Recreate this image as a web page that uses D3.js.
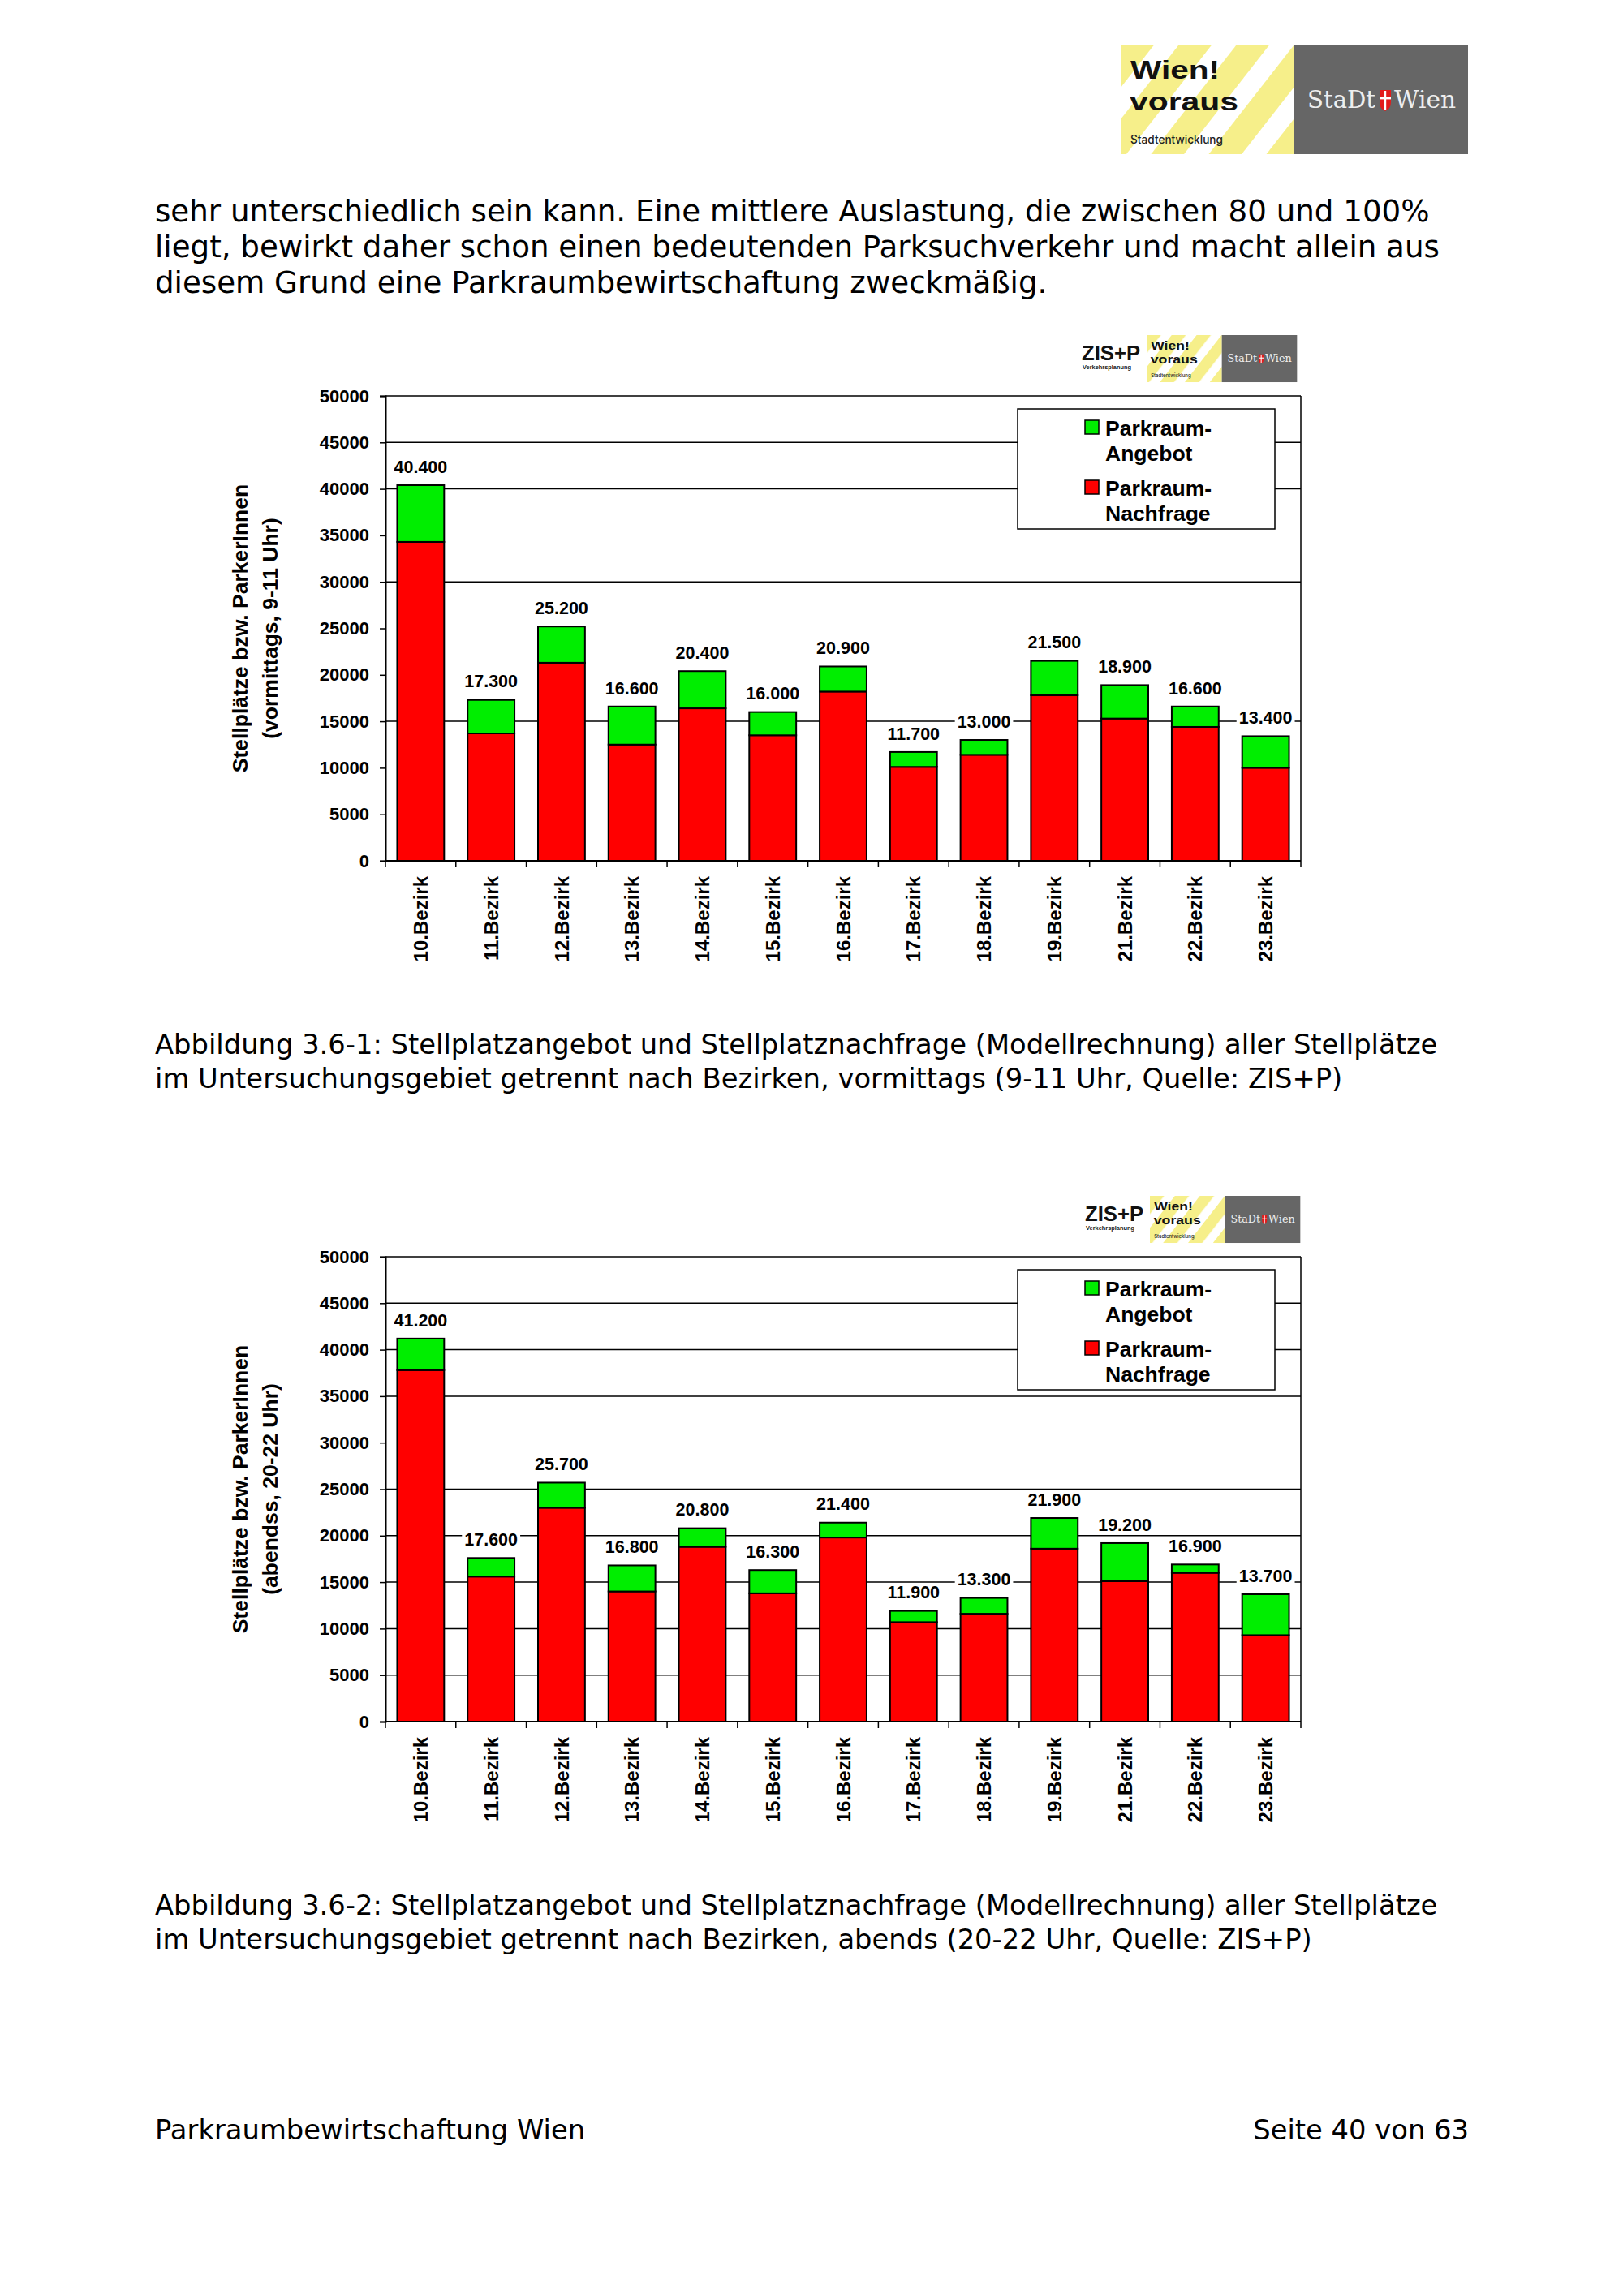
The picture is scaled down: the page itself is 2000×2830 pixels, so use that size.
<!DOCTYPE html>
<html><head><meta charset="utf-8">
<script src="https://cdn.jsdelivr.net/npm/d3@7"></script>
<style>html,body{margin:0;padding:0;background:#fff}svg{display:block}</style>
</head><body><script>
// ---------- data ----------
const districts = ["10.Bezirk","11.Bezirk","12.Bezirk","13.Bezirk","14.Bezirk","15.Bezirk","16.Bezirk","17.Bezirk","18.Bezirk","19.Bezirk","21.Bezirk","22.Bezirk","23.Bezirk"];
// Vormittags (9-11 Uhr)
const amSupply = [40400,17300,25200,16600,20400,16000,20900,11700,13000,21500,18900,16600,13400];
const amDemand = [34300,13700,21300,12500,16400,13500,18200,10100,11400,17800,15300,14400,10000];
// Abends (20-22 Uhr)
const pmSupply = [41200,17600,25700,16800,20800,16300,21400,11900,13300,21900,19200,16900,13700];
const pmDemand = [37800,15600,23000,14000,18800,13800,19800,10700,11600,18600,15100,16000,9300];
const yTickValues = [0,5000,10000,15000,20000,25000,30000,35000,40000,45000,50000];
const amGridValues = [15000,30000,40000,45000];
const pmGridValues = [5000,10000,15000,20000,25000,35000,40000,45000];
const seriesNames = ["Parkraum-Angebot","Parkraum-Nachfrage"];
const legendLines = [["Parkraum-","Angebot"],["Parkraum-","Nachfrage"]];
const seriesColors = ["#00ee00","#ff0000"];
const amTitle = ["Stellplätze bzw. ParkerInnen","(vormittags, 9-11 Uhr)"];
const pmTitle = ["Stellplätze bzw. ParkerInnen","(abendss, 20-22 Uhr)"];
const bodyLines = [
  "sehr unterschiedlich sein kann. Eine mittlere Auslastung, die zwischen 80 und 100%",
  "liegt, bewirkt daher schon einen bedeutenden Parksuchverkehr und macht allein aus",
  "diesem Grund eine Parkraumbewirtschaftung zweckmäßig."
];
const caption1 = [
  "Abbildung 3.6-1: Stellplatzangebot und Stellplatznachfrage (Modellrechnung) aller Stellplätze",
  "im Untersuchungsgebiet getrennt nach Bezirken, vormittags (9-11 Uhr, Quelle: ZIS+P)"
];
const caption2 = [
  "Abbildung 3.6-2: Stellplatzangebot und Stellplatznachfrage (Modellrechnung) aller Stellplätze",
  "im Untersuchungsgebiet getrennt nach Bezirken, abends (20-22 Uhr, Quelle: ZIS+P)"
];
const footerLeft = "Parkraumbewirtschaftung Wien";
const footerRight = "Seite 40 von 63";

// ---------- setup ----------
const W = 2000, H = 2830;
const svg = d3.select("body").append("svg").attr("width", W).attr("height", H);
svg.append("rect").attr("width", W).attr("height", H).attr("fill", "#fff");
const defs = svg.append("defs");
const pat = defs.append("pattern").attr("id","stripes").attr("patternUnits","userSpaceOnUse")
  .attr("width",56).attr("height",56).attr("patternTransform","rotate(38)");
pat.append("rect").attr("width",56).attr("height",56).attr("fill","#fff");
pat.append("rect").attr("width",32).attr("height",56).attr("fill","#f6ef8a");

const DOC_FONT = "'DejaVu Sans', Verdana, sans-serif";
const CH_FONT = "'Liberation Sans', Arial, Helvetica, sans-serif";

// fit body font size to the measured width of the first line
const probe = svg.append("text").attr("font-family", DOC_FONT).attr("font-size", 34).text(bodyLines[0]);
const docSize = 34 * 1571 / probe.node().getComputedTextLength();
probe.remove();
const capSize = docSize * 0.908;

function textBlock(lines, x, y0, lh, size) {
  const t = svg.append("g");
  lines.forEach((l, i) => t.append("text").attr("x", x).attr("y", y0 + i * lh)
    .attr("font-family", DOC_FONT).attr("font-size", size).attr("fill", "#000").text(l));
}
textBlock(bodyLines, 191, 273, 44, docSize);
textBlock(caption1, 191, 1299, 42, capSize);
textBlock(caption2, 191, 2360, 42, capSize);
svg.append("text").attr("x",191).attr("y",2637).attr("font-family",DOC_FONT).attr("font-size",capSize).text(footerLeft);
svg.append("text").attr("x",1810).attr("y",2637).attr("text-anchor","end").attr("font-family",DOC_FONT).attr("font-size",capSize).text(footerRight);

// ---------- logos ----------
function wienLogo(x, y, s) {
  const g = svg.append("g").attr("transform", `translate(${x},${y}) scale(${s})`);
  g.append("rect").attr("width",214).attr("height",134).attr("fill","url(#stripes)");
  g.append("text").attr("x",12).attr("y",41).attr("font-family","'Liberation Sans', sans-serif")
    .attr("font-weight",700).attr("font-size",32).attr("textLength",110).attr("lengthAdjust","spacingAndGlyphs")
    .attr("fill","#111").text("Wien!");
  g.append("text").attr("x",11).attr("y",80).attr("font-family","'Liberation Sans', sans-serif")
    .attr("font-weight",700).attr("font-size",32).attr("textLength",134).attr("lengthAdjust","spacingAndGlyphs")
    .attr("fill","#111").text("voraus");
  g.append("text").attr("x",12).attr("y",121).attr("font-family","Inter, 'Liberation Sans', sans-serif")
    .attr("font-weight",500).attr("font-size",14).attr("textLength",114).attr("lengthAdjust","spacingAndGlyphs").attr("fill","#222").text("Stadtentwicklung");
  g.append("rect").attr("x",214).attr("width",214).attr("height",134).attr("fill","#666");
  g.append("text").attr("x",230).attr("y",77).attr("font-family","'DejaVu Serif', serif")
    .attr("font-size",30).attr("textLength",84).attr("lengthAdjust","spacingAndGlyphs").attr("fill","#eee").text("StaDt");
  g.append("path").attr("d","M319,55 L333,55 L333,70 Q333,78 326,81 Q319,78 319,70 Z").attr("fill","#e21c1c");
  g.append("rect").attr("x",324.8).attr("y",56).attr("width",2.4).attr("height",24).attr("fill","#fff");
  g.append("rect").attr("x",319).attr("y",64).attr("width",14).attr("height",2.4).attr("fill","#fff");
  g.append("text").attr("x",337).attr("y",77).attr("font-family","'DejaVu Serif', serif")
    .attr("font-size",30).attr("textLength",76).attr("lengthAdjust","spacingAndGlyphs").attr("fill","#eee").text("Wien");
  return g;
}
wienLogo(1381, 56, 1);

function chartLogo(x, y) {
  svg.append("text").attr("x",x).attr("y",y+31).attr("font-family",CH_FONT).attr("font-weight",700)
    .attr("font-size",26).attr("textLength",72).attr("lengthAdjust","spacingAndGlyphs").attr("fill","#111").text("ZIS+P");
  svg.append("text").attr("x",x+1).attr("y",y+42).attr("font-family",CH_FONT).attr("font-weight",700)
    .attr("font-size",7).attr("textLength",60).attr("lengthAdjust","spacingAndGlyphs").attr("fill","#222").text("Verkehrsplanung");
  wienLogo(x + 80, y, 0.433);
}

// ---------- charts ----------
const deFmt = d3.formatLocale({decimal: ",", thousands: ".", grouping: [3], currency: ["", "€"]}).format(",");

function drawChart(dy, supply, demand, gridVals, title, logoDx) {
  const x0 = 475, x1 = 1603, yTop = 488 + dy, yBot = 1061 + dy;
  const x = d3.scaleBand().domain(districts).range([x0, x1]).paddingInner(1/3).paddingOuter(1/6);
  const y = d3.scaleLinear().domain([0, 50000]).range([yBot, yTop]);
  const g = svg.append("g");

  chartLogo(1333 + logoDx, 413 + dy);

  // gridlines
  g.append("g").selectAll("line").data(gridVals).join("line")
    .attr("x1", x0).attr("x2", x1).attr("y1", d => y(d)).attr("y2", d => y(d))
    .attr("stroke", "#000").attr("stroke-width", 1.5);

  // legend
  const lg = g.append("g");
  lg.append("rect").attr("x", 1254).attr("y", 504 + dy).attr("width", 317).attr("height", 148)
    .attr("fill", "#fff").attr("stroke", "#000").attr("stroke-width", 1.5);
  legendLines.forEach((lines, i) => {
    const by = 537 + dy + i * 74;
    lg.append("rect").attr("x", 1337).attr("y", by - 19).attr("width", 17).attr("height", 17)
      .attr("fill", seriesColors[i]).attr("stroke", "#000").attr("stroke-width", 1.5);
    lines.forEach((l, j) => lg.append("text").attr("x", 1362).attr("y", by + j * 31)
      .attr("font-family", CH_FONT).attr("font-weight", 700).attr("font-size", 26.5).attr("fill", "#000").text(l));
  });

  // bars
  const rows = districts.map((d, i) => ({d, total: supply[i], dem: demand[i]}));
  const bars = g.append("g");
  bars.selectAll("rect.dem").data(rows).join("rect").attr("class","dem")
    .attr("x", r => x(r.d)).attr("width", x.bandwidth())
    .attr("y", r => y(r.dem)).attr("height", r => y(0) - y(r.dem))
    .attr("fill", seriesColors[1]).attr("stroke", "#000").attr("stroke-width", 2);
  bars.selectAll("rect.sup").data(rows).join("rect").attr("class","sup")
    .attr("x", r => x(r.d)).attr("width", x.bandwidth())
    .attr("y", r => y(r.total)).attr("height", r => y(r.dem) - y(r.total))
    .attr("fill", seriesColors[0]).attr("stroke", "#000").attr("stroke-width", 2);

  // value labels with white background
  const lbl = g.append("g").selectAll("g").data(rows).join("g");
  lbl.append("rect").attr("fill", "#fff");
  const tx = lbl.append("text").attr("x", r => x(r.d) + x.bandwidth() / 2).attr("y", r => y(r.total) - 23)
    .attr("dy", "0.36em").attr("text-anchor", "middle")
    .attr("font-family", CH_FONT).attr("font-weight", 700).attr("font-size", 21.5).attr("fill", "#000")
    .text(r => deFmt(r.total));
  tx.each(function () {
    const b = this.getBBox();
    d3.select(this.previousSibling).attr("x", b.x - 3).attr("y", b.y + 1).attr("width", b.width + 6).attr("height", b.height - 2);
  });

  // axes
  const yAxis = g.append("g").attr("transform", `translate(${x0},0)`)
    .call(d3.axisLeft(y).tickValues(yTickValues).tickFormat(d3.format("d")).tickSize(7).tickPadding(13));
  yAxis.select(".domain").attr("stroke", "#000").attr("stroke-width", 2);
  yAxis.selectAll(".tick line").attr("stroke", "#000").attr("stroke-width", 1.5);
  yAxis.selectAll(".tick text").attr("font-family", CH_FONT).attr("font-weight", 700).attr("font-size", 22).attr("fill", "#000");

  const xAxis = g.append("g").attr("transform", `translate(0,${yBot})`);
  xAxis.append("line").attr("x1", x0).attr("x2", x1).attr("stroke", "#000").attr("stroke-width", 2);
  const edges = districts.map(d => x(d) - (x.step() - x.bandwidth()) / 2).concat([x1]);
  xAxis.selectAll("line.tk").data(edges).join("line").attr("class","tk")
    .attr("x1", d => d).attr("x2", d => d).attr("y1", 0).attr("y2", 8).attr("stroke", "#000").attr("stroke-width", 1.5);
  xAxis.selectAll("text").data(districts).join("text")
    .attr("transform", d => `translate(${x(d) + x.bandwidth() / 2},19) rotate(-90)`)
    .attr("text-anchor", "end").attr("dy", "0.36em")
    .attr("font-family", CH_FONT).attr("font-weight", 700).attr("font-size", 24).attr("fill", "#000")
    .text(d => d);

  // frame top + right
  g.append("line").attr("x1", x0).attr("x2", x1).attr("y1", yTop).attr("y2", yTop).attr("stroke", "#000").attr("stroke-width", 1.5);
  g.append("line").attr("x1", x1).attr("x2", x1).attr("y1", yTop).attr("y2", yBot).attr("stroke", "#000").attr("stroke-width", 1.5);

  // y title
  const cy = (yTop + yBot) / 2;
  title.forEach((t, i) => g.append("text")
    .attr("transform", `translate(${295 + i * 37},${cy}) rotate(-90)`)
    .attr("text-anchor", "middle").attr("dy", "0.36em")
    .attr("font-family", CH_FONT).attr("font-weight", 700).attr("font-size", 26.5).attr("fill", "#000").text(t));
}

drawChart(0, amSupply, amDemand, amGridValues, amTitle, 0);
drawChart(1061, pmSupply, pmDemand, pmGridValues, pmTitle, 4);
</script></body></html>
